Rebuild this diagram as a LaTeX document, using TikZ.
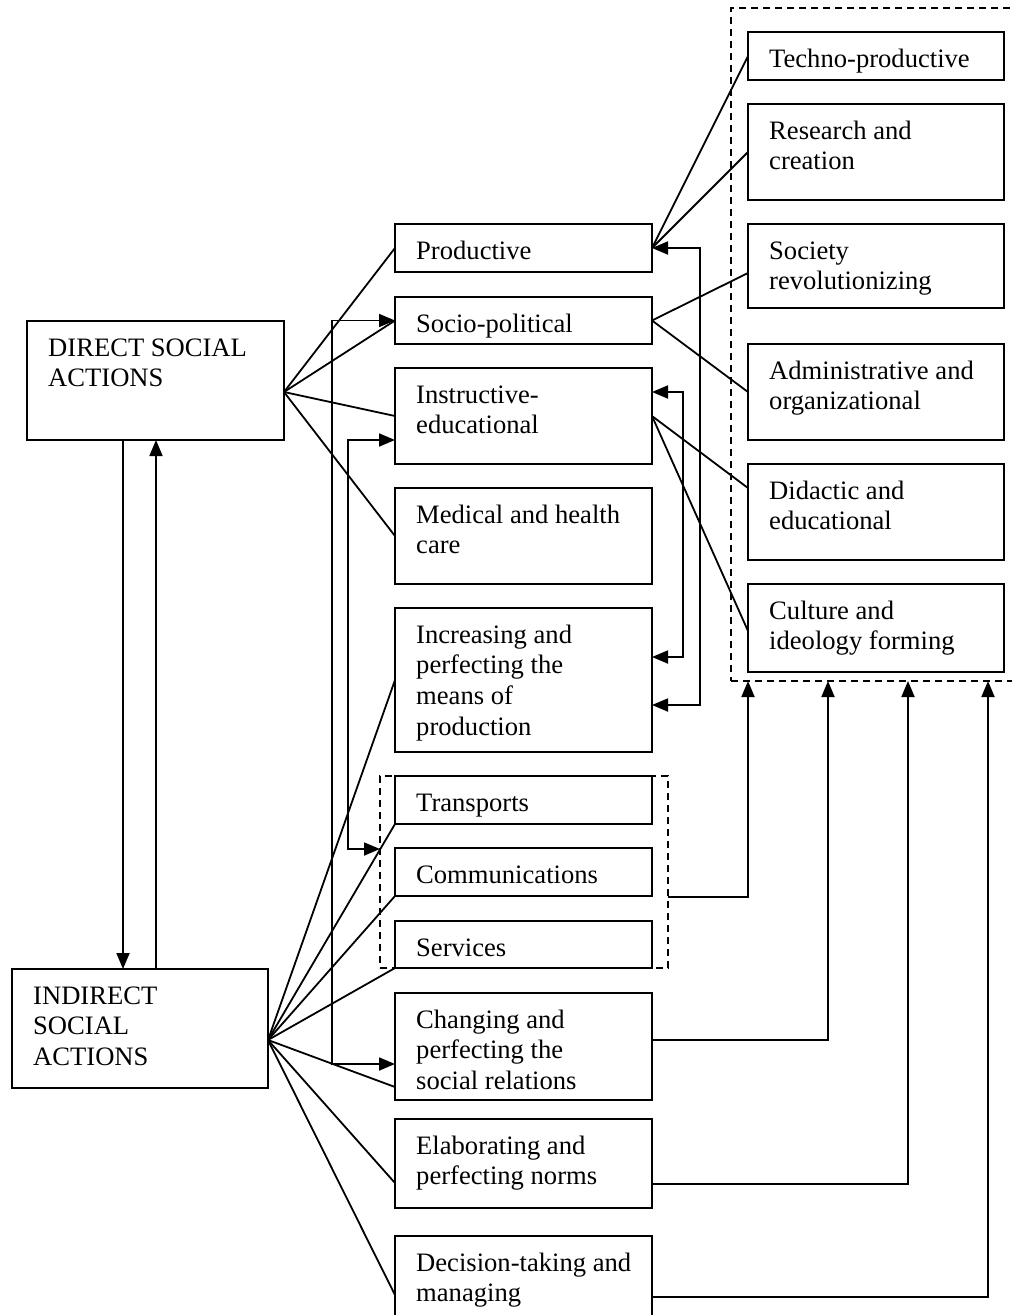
\documentclass[tikz,border=0pt]{standalone}
\usepackage{fontspec}
\setmainfont{Liberation Serif}
\usetikzlibrary{arrows.meta}
\newcommand\bx[6]{%
  \node[boxst, minimum width={#4-#2}, minimum height={#5-#3}] (#1) at (#2,#3) {};
  \node[lbl] (#1-t) at ([shift={(21,13.5)}]#1.north west) {\strut #6};}
\begin{document}
\begin{tikzpicture}[x=1pt,y=-1pt,
  every node/.style={font=\fontsize{26.6}{30.7}\selectfont},
  boxst/.style={draw, line width=1.8pt, rectangle, anchor=north west, inner sep=0pt, outer sep=0pt},
  grp/.style={draw, dash pattern=on 7pt off 5pt, line width=1.8pt, rectangle, anchor=north west, inner sep=0pt, outer sep=0pt},
  lbl/.style={anchor=north west, inner sep=0pt, align=left},
  conn/.style={line width=1.8pt},
  arr/.style={conn, -{Triangle[length=16pt,width=13pt]}},
  darr/.style={conn, {Triangle[length=16pt,width=13pt]}-{Triangle[length=16pt,width=13pt]}}
]
\useasboundingbox (0,0) rectangle (1012,1315);
\clip (0,0) rectangle (1012,1315);

% dashed groups
\node[grp, minimum width=289, minimum height=673] (grpR) at (731,8) {};
\node[grp, minimum width=288, minimum height=192] (grpS) at (380,776) {};

% left column
\bx{direct}{27}{321}{284}{440}{DIRECT SOCIAL\\ACTIONS}
\bx{indirect}{12}{969}{268}{1088}{INDIRECT\\SOCIAL\\ACTIONS}

% middle column
\bx{prod}{395}{224}{652}{272}{Productive}
\bx{socpol}{395}{297}{652}{344}{Socio-political}
\bx{instr}{395}{368}{652}{464}{Instructive-\\educational}
\bx{med}{395}{488}{652}{584}{Medical and health\\care}
\bx{incr}{395}{608}{652}{752}{Increasing and\\perfecting the\\means of\\production}
\bx{transp}{395}{776}{652}{824}{Transports}
\bx{comm}{395}{848}{652}{896}{Communications}
\bx{serv}{395}{921}{652}{968}{Services}
\bx{chg}{395}{993}{652}{1100}{Changing and\\perfecting the\\social relations}
\bx{elab}{395}{1119}{652}{1208}{Elaborating and\\perfecting norms}
\bx{dec}{395}{1236}{652}{1340}{Decision-taking and\\managing}

% right column
\bx{techno}{748}{32}{1004}{80}{Techno-productive}
\bx{research}{748}{104}{1004}{200}{Research and\\creation}
\bx{society}{748}{224}{1004}{308}{Society\\revolutionizing}
\bx{admin}{748}{344}{1004}{440}{Administrative and\\organizational}
\bx{didactic}{748}{464}{1004}{560}{Didactic and\\educational}
\bx{culture}{748}{584}{1004}{672}{Culture and\\ideology forming}

% plain connectors
\foreach \t in {prod.west, socpol.west, instr.west, med.west}
  \draw[conn] (direct.east |- 0,392) -- (\t);
\foreach \t in {incr.west, transp.south west, comm.south west, serv.south west}
  \draw[conn] (indirect.east |- 0,1040) -- (\t);
\draw[conn] (indirect.east |- 0,1040) -- (chg.west |- 0,1087);
\draw[conn] (indirect.east |- 0,1040) -- (elab.west |- 0,1183);
\draw[conn] (indirect.east |- 0,1040) -- (dec.west |- 0,1295);

\draw[conn] (prod.east) -- (techno.west);
\draw[conn] (prod.east) -- (research.west);
\draw[conn] (socpol.east) -- (society.west |- 0,273);
\draw[conn] (socpol.east) -- (admin.west);
\draw[conn] (instr.east) -- (didactic.west |- 0,488);
\draw[conn] (instr.east) -- (culture.west |- 0,631);

% arrows between left boxes
\draw[arr] (direct.south -| 123,0) -- (indirect.north -| 123,0);
\draw[arr] (indirect.north -| 156,0) -- (direct.south -| 156,0);

% double-headed elbow connectors
\draw[darr] (socpol.west) -| (332,1064) -- (chg.west |- 0,1064);
\draw[darr] (instr.west |- 0,440) -| (348,849) -- (grpS.west |- 0,849);
\draw[darr] (prod.east) -| (700,705) -- (incr.east |- 0,705);
\draw[darr] (instr.east |- 0,392) -| (683,657) -- (incr.east |- 0,657);

% arrows up to the right group
\draw[arr] (grpS.east |- 0,897) -| (grpR.south -| 748,0);
\draw[arr] (chg.east |- 0,1040) -| (grpR.south -| 828,0);
\draw[arr] (elab.east |- 0,1184) -| (grpR.south -| 908,0);
\draw[arr] (dec.east |- 0,1297) -| (grpR.south -| 988,0);
\end{tikzpicture}
\end{document}
